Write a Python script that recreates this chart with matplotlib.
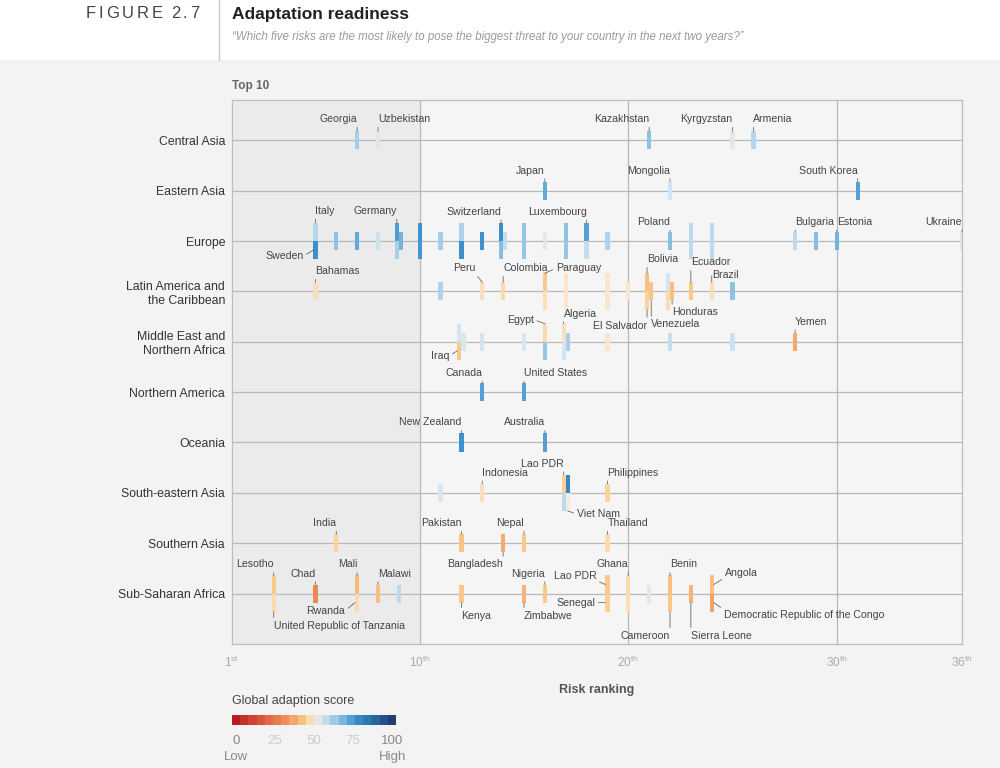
import matplotlib
matplotlib.use("Agg")
import matplotlib.pyplot as plt
from matplotlib.colors import LinearSegmentedColormap
from matplotlib.patches import Rectangle
from matplotlib.lines import Line2D

plt.rcParams['font.family'] = ['Liberation Sans', 'DejaVu Sans']
plt.rcParams['mathtext.fontset'] = 'custom'
plt.rcParams['mathtext.rm'] = 'Liberation Sans'

# ---- data: (country, risk ranking, global adaptation score) ----
REGIONS = ["Central Asia", "Eastern Asia", "Europe", "Latin America and\nthe Caribbean",
           "Middle East and\nNorthern Africa", "Northern America", "Oceania",
           "South-eastern Asia", "Southern Asia", "Sub-Saharan Africa"]

central_asia = [("Georgia", 7, 62), ("Uzbekistan", 8, 53), ("Kazakhstan", 21, 65),
                ("Kyrgyzstan", 25, 53), ("Armenia", 26, 59)]

eastern_asia = [("Japan", 16, 70), ("Mongolia", 22, 55), ("South Korea", 31, 72)]

europe = [("Italy", 5, 59), ("Sweden", 5, 76), ("", 6, 65), ("", 7, 70), ("", 8, 56),
          ("Germany", 9, 73), ("", 9, 61), ("", 9, 68), ("", 10, 75), ("", 10, 74),
          ("", 11, 62), ("", 12, 60), ("", 12, 76), ("", 13, 75),
          ("Switzerland", 14, 76), ("", 14, 66), ("", 14, 57), ("", 15, 64), ("", 15, 64),
          ("", 16, 53), ("", 17, 65), ("", 17, 64), ("Luxembourg", 18, 72), ("", 18, 57),
          ("", 19, 60), ("Poland", 22, 66), ("", 23, 58), ("", 23, 58), ("", 24, 58),
          ("", 24, 58), ("Bulgaria", 28, 58), ("", 29, 66), ("Estonia", 30, 68),
          ("Ukraine", 36, 54)]

latin_america = [("Bahamas", 5, 48), ("", 11, 60), ("Peru", 13, 48), ("Colombia", 14, 47),
                 ("Paraguay", 16, 44), ("", 16, 48), ("", 17, 49), ("", 17, 49),
                 ("", 19, 49), ("", 19, 49), ("", 20, 49),
                 ("Bolivia", 21, 42), ("El Salvador", 21, 46), ("Venezuela", 21, 43),
                 ("", 22, 55), ("", 22, 47), ("Honduras", 22, 42),
                 ("Ecuador", 23, 44), ("Brazil", 24, 48), ("", 25, 65)]

mena = [("", 12, 55), ("Iraq", 12, 44), ("", 12, 54), ("", 13, 55), ("", 15, 54),
        ("Egypt", 16, 47), ("", 16, 64), ("Algeria", 17, 48), ("", 17, 55), ("", 17, 61),
        ("", 19, 49), ("", 22, 57), ("", 25, 56), ("Yemen", 28, 38)]

northern_america = [("Canada", 13, 72), ("United States", 15, 72)]

oceania = [("New Zealand", 12, 75), ("Australia", 16, 72)]

se_asia = [("", 11, 54), ("Indonesia", 13, 48), ("Lao PDR", 17, 45), ("", 17, 58),
           ("", 17, 78), ("Viet Nam", 17, 51), ("Philippines", 19, 46)]

southern_asia = [("India", 6, 46), ("Pakistan", 12, 43), ("Bangladesh", 14, 38),
                 ("Nepal", 15, 44), ("Thailand", 19, 47)]

sub_saharan = [("Lesotho", 3, 44), ("United Republic of Tanzania", 3, 47), ("Chad", 5, 31),
               ("Mali", 7, 41), ("Rwanda", 7, 47), ("Malawi", 8, 42), ("", 9, 58),
               ("Kenya", 12, 44), ("Zimbabwe", 15, 40), ("Nigeria", 16, 44),
               ("Lao PDR", 19, 44), ("Senegal", 19, 45), ("Ghana", 20, 47), ("", 20, 48),
               ("", 21, 53), ("Benin", 22, 42), ("Cameroon", 22, 44), ("Sierra Leone", 23, 40),
               ("Angola", 24, 42), ("Democratic Republic of the Congo", 24, 37)]

region_data = [central_asia, eastern_asia, europe, latin_america, mena,
               northern_america, oceania, se_asia, southern_asia, sub_saharan]

x_ticks = [1, 10, 20, 30, 36]
x_suffix = ["st", "th", "th", "th", "th"]
legend_ticks = [0, 25, 50, 75, 100]

# label placement: (region, country) -> (bar anchor, dx px, dy px, ha)
label_pos = {
    (0, "Georgia"): ("top", 0, -12, "right"), (0, "Uzbekistan"): ("top", 0, -12, "left"),
    (0, "Kazakhstan"): ("top", 0, -12, "right"), (0, "Kyrgyzstan"): ("top", 0, -12, "right"),
    (0, "Armenia"): ("top", 0, -12, "left"),
    (1, "Japan"): ("top", 0, -11, "right"), (1, "Mongolia"): ("top", 0, -11, "right"),
    (1, "South Korea"): ("top", 0, -11, "right"),
    (2, "Italy"): ("top", 0, -12, "left"), (2, "Sweden"): ("lm", -10, 6, "right"),
    (2, "Germany"): ("top", 0, -12, "right"), (2, "Switzerland"): ("top", 0, -11, "right"),
    (2, "Luxembourg"): ("top", 0, -11, "right"), (2, "Poland"): ("top", 0, -10, "right"),
    (2, "Bulgaria"): ("top", 0, -10, "left"), (2, "Estonia"): ("top", 0, -10, "left"),
    (2, "Ukraine"): ("top", 0, -10, "right"),
    (3, "Bahamas"): ("top", 0, -11, "left"), (3, "Peru"): ("top", -7, -14, "right"),
    (3, "Colombia"): ("top", 0, -14, "left"), (3, "Paraguay"): ("top", 11, -5, "left"),
    (3, "Bolivia"): ("top", 0, -14, "left"), (3, "El Salvador"): ("bot", 0, 16, "right"),
    (3, "Venezuela"): ("bot", 0, 24, "left"), (3, "Honduras"): ("bot", 0, 12, "left"),
    (3, "Ecuador"): ("top", 0, -20, "left"), (3, "Brazil"): ("top", 0, -7, "left"),
    (4, "Iraq"): ("lm", -8, 5, "right"), (4, "Egypt"): ("top", -11, -4, "right"),
    (4, "Algeria"): ("top", 0, -10, "left"), (4, "Yemen"): ("top", 0, -11, "left"),
    (5, "Canada"): ("top", 0, -10, "right"), (5, "United States"): ("top", 0, -10, "left"),
    (6, "New Zealand"): ("top", 0, -11, "right"), (6, "Australia"): ("top", 0, -11, "right"),
    (7, "Indonesia"): ("top", 0, -11, "left"), (7, "Lao PDR"): ("top", 0, -11, "right"),
    (7, "Viet Nam"): ("bot", 9, 3, "left"), (7, "Philippines"): ("top", 0, -11, "left"),
    (8, "India"): ("top", 0, -11, "right"), (8, "Pakistan"): ("top", 0, -11, "right"),
    (8, "Bangladesh"): ("bot", 0, 12, "right"), (8, "Nepal"): ("top", 0, -11, "right"),
    (8, "Thailand"): ("top", 0, -11, "left"),
    (9, "Lesotho"): ("top", 0, -11, "right"),
    (9, "United Republic of Tanzania"): ("bot", 0, 14, "left"),
    (9, "Chad"): ("top", 0, -11, "right"), (9, "Mali"): ("top", 0, -11, "right"),
    (9, "Rwanda"): ("lm", -10, 8, "right"), (9, "Malawi"): ("top", 0, -11, "left"),
    (9, "Kenya"): ("bot", 0, 13, "left"), (9, "Zimbabwe"): ("bot", 0, 13, "left"),
    (9, "Nigeria"): ("top", 0, -11, "right"), (9, "Lao PDR"): ("lm", -9, -9, "right"),
    (9, "Senegal"): ("lm", -10, 0, "right"), (9, "Ghana"): ("top", 0, -11, "right"),
    (9, "Benin"): ("top", 0, -11, "left"), (9, "Cameroon"): ("bot", 0, 24, "right"),
    (9, "Sierra Leone"): ("bot", 0, 33, "left"), (9, "Angola"): ("rm", 11, -12, "left"),
    (9, "Democratic Republic of the Congo"): ("rm", 10, 12, "left"),
}

score_cmap = LinearSegmentedColormap.from_list("adapt", [
    (0.00, "#b2151f"), (0.20, "#dd5f3e"), (0.35, "#f09a5c"), (0.45, "#fbcf90"),
    (0.50, "#f8ecdc"), (0.55, "#d2e5f2"), (0.65, "#8ec2e3"), (0.75, "#3d93cf"),
    (0.85, "#2a6fae"), (1.00, "#1f3560")])

BAR_H = 0.36
BAR_W = 0.2


def stack(rows):
    # countries sharing a rank are stacked above/below the line, a third goes beside
    groups = {}
    for name, rank, score in rows:
        groups.setdefault(rank, []).append((name, score))
    out = []
    for rank, items in groups.items():
        if len(items) <= 2:
            cols = [(rank, items)]
        else:
            cols = [(rank - 0.1, items[:2]), (rank + 0.1, items[2:])]
        for x, col in cols:
            if len(col) == 1:
                out.append((col[0][0], x, -BAR_H / 2, col[0][1]))
            else:
                out.append((col[0][0], x, -BAR_H, col[0][1]))
                out.append((col[1][0], x, 0.0, col[1][1]))
    return out


fig = plt.figure(figsize=(10, 7.68), dpi=100, facecolor="#f3f3f3")
fig.patches.append(Rectangle((0, 1 - 60 / 768), 1, 60 / 768, transform=fig.transFigure,
                             facecolor="white", edgecolor="none", zorder=0))
fig.add_artist(Line2D([0.219, 0.219], [1 - 60 / 768, 1], color="#c8c8c8", lw=1))

ax = fig.add_axes([0.232, 0.1615, 0.730, 0.7083])
ax.set_facecolor("#f5f5f5")
ax.set_xlim(1, 36)
ax.set_ylim(10.0, -0.8)
ax.axvspan(1, 10, color="#ebebeb", zorder=0, lw=0)
for i in range(len(REGIONS)):
    ax.axhline(i, color="#b8b8b8", lw=0.9, zorder=1)
for xv in [10, 20, 30]:
    ax.axvline(xv, color="#b8b8b8", lw=0.9, zorder=1)
for s in ax.spines.values():
    s.set_color("#bdbdbd")
    s.set_linewidth(0.9)

for ri, rows in enumerate(region_data):
    for name, x, y0, score in stack(rows):
        ax.bar(x, BAR_H, width=BAR_W, bottom=ri + y0, color=score_cmap(score / 100),
               linewidth=0, zorder=3)
        key = (ri, name)
        if name and key in label_pos:
            anchor, dx, dy, ha = label_pos[key]
            if anchor == "top":
                xy = (x, ri + y0)
            elif anchor == "bot":
                xy = (x, ri + y0 + BAR_H)
            elif anchor == "lm":
                xy = (x - BAR_W / 2, ri + y0 + BAR_H / 2)
            else:
                xy = (x + BAR_W / 2, ri + y0 + BAR_H / 2)
            relx = {"left": 0, "right": 1}[ha]
            rely = 0 if dy < -8 else (1 if dy > 8 else 0.5)
            ax.annotate(name, xy=xy, xytext=(dx * 0.72, -dy * 0.72), textcoords="offset points",
                        ha=ha, va="center", fontsize=7.6, color="#444444", zorder=5,
                        arrowprops=dict(arrowstyle="-", color="#666666", lw=0.6,
                                        shrinkA=0.3, shrinkB=0, relpos=(relx, rely)))

ax.set_yticks(range(len(REGIONS)))
ax.set_yticklabels(REGIONS, fontsize=8.8, color="#333333")
ax.set_xticks(x_ticks)
ax.set_xticklabels([r"%d$^{\mathrm{%s}}$" % (t, s) for t, s in zip(x_ticks, x_suffix)],
                   fontsize=8.5, color="#aaaaaa")
ax.tick_params(axis="y", length=0, pad=5)
ax.tick_params(axis="x", length=0, pad=8)
ax.set_xlabel("Risk ranking", fontsize=9, fontweight="bold", color="#555555", labelpad=10)

# header
fig.text(0.232, 1 - 14 / 768, "Adaptation readiness", fontsize=12.5, fontweight="bold",
         color="#222222", va="center")
fig.text(0.232, 1 - 37 / 768,
         "\u201cWhich five risks are the most likely to pose the biggest threat to your country in the next two years?\u201d",
         fontsize=8.3, style="italic", color="#9a9a9a", va="center")
renderer = fig.canvas.get_renderer()
px = 86
for ch in "FIGURE 2.7":
    if ch == " ":
        px += 5
        continue
    t = fig.text(px / 1000, 1 - 14 / 768, ch, fontsize=12, color="#444444", va="center")
    px += t.get_window_extent(renderer).width + 2.8

fig.text(0.232, 1 - 86 / 768, "Top 10", fontsize=8.5, fontweight="bold", color="#666666",
         va="center")

# legend
fig.text(0.232, 1 - 701 / 768, "Global adaption score", fontsize=9, color="#444444",
         va="center")
lax = fig.add_axes([0.232, 1 - 725 / 768, 0.164, 10 / 768])
lax.set_xlim(-2.5, 102.5)
lax.set_ylim(0, 1)
lax.axis("off")
cell = 105 / 20
for i in range(20):
    lax.add_patch(Rectangle((-2.5 + i * cell, 0), cell, 1, facecolor=score_cmap((i + 0.5) / 20),
                            edgecolor="none"))
for v in legend_ticks:
    col = "#888888" if v in (0, 100) else "#cccccc"
    lax.text(v, -1.6, str(v), ha="center", va="center", fontsize=9.5, color=col)
lax.text(0, -3.2, "Low", ha="center", va="center", fontsize=9.5, color="#888888")
lax.text(100, -3.2, "High", ha="center", va="center", fontsize=9.5, color="#888888")

fig.savefig("out.png", dpi=100, facecolor=fig.get_facecolor())
